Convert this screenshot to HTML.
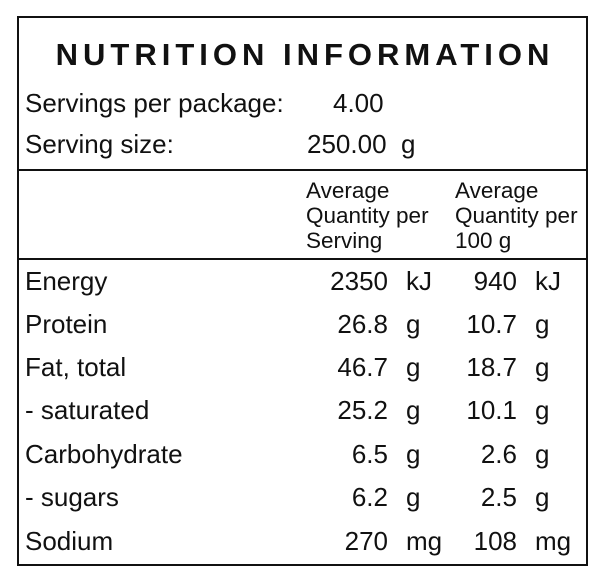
<!DOCTYPE html>
<html><head><style>
body{margin:0;width:606px;height:584px;background:#fff;font-family:"Liberation Sans",Arial,sans-serif;color:#111;position:relative;overflow:hidden}
.box{position:absolute;left:17px;top:16px;width:571px;height:550px;border:2px solid #111;box-sizing:border-box}
.hl{position:absolute;left:17px;width:571px;height:2px;background:#111}
.t{position:absolute;white-space:nowrap;font-size:26px;line-height:30px}
.r{text-align:right}
.h{font-size:22.5px;line-height:25px}
</style></head><body>
<div class="box"></div>
<div class="hl" style="top:169px"></div>
<div class="hl" style="top:258px"></div>
<div class="t" style="left:0;width:606px;text-align:center;top:38px;font-size:31px;line-height:34px;font-weight:bold;letter-spacing:5px;text-indent:4px">NUTRITION INFORMATION</div>
<div class="t" style="left:25px;top:88px">Servings per package:</div>
<div class="t" style="left:333px;top:88px">4.00</div>
<div class="t" style="left:25px;top:129px">Serving size:</div>
<div class="t" style="left:307px;top:129px">250.00&nbsp; g</div>
<div class="t h" style="left:306px;top:178px">Average<br>Quantity per<br>Serving</div>
<div class="t h" style="left:455px;top:178px">Average<br>Quantity per<br>100 g</div>

<div class="t" style="left:25px;top:266px">Energy</div><div class="t r" style="right:218px;top:266px">2350</div><div class="t" style="left:406px;top:266px">kJ</div><div class="t r" style="right:89px;top:266px">940</div><div class="t" style="left:535px;top:266px">kJ</div>
<div class="t" style="left:25px;top:309px">Protein</div><div class="t r" style="right:218px;top:309px">26.8</div><div class="t" style="left:406px;top:309px">g</div><div class="t r" style="right:89px;top:309px">10.7</div><div class="t" style="left:535px;top:309px">g</div>
<div class="t" style="left:25px;top:352px">Fat, total</div><div class="t r" style="right:218px;top:352px">46.7</div><div class="t" style="left:406px;top:352px">g</div><div class="t r" style="right:89px;top:352px">18.7</div><div class="t" style="left:535px;top:352px">g</div>
<div class="t" style="left:25px;top:395px">- saturated</div><div class="t r" style="right:218px;top:395px">25.2</div><div class="t" style="left:406px;top:395px">g</div><div class="t r" style="right:89px;top:395px">10.1</div><div class="t" style="left:535px;top:395px">g</div>
<div class="t" style="left:25px;top:439px">Carbohydrate</div><div class="t r" style="right:218px;top:439px">6.5</div><div class="t" style="left:406px;top:439px">g</div><div class="t r" style="right:89px;top:439px">2.6</div><div class="t" style="left:535px;top:439px">g</div>
<div class="t" style="left:25px;top:482px">- sugars</div><div class="t r" style="right:218px;top:482px">6.2</div><div class="t" style="left:406px;top:482px">g</div><div class="t r" style="right:89px;top:482px">2.5</div><div class="t" style="left:535px;top:482px">g</div>
<div class="t" style="left:25px;top:526px">Sodium</div><div class="t r" style="right:218px;top:526px">270</div><div class="t" style="left:406px;top:526px">mg</div><div class="t r" style="right:89px;top:526px">108</div><div class="t" style="left:535px;top:526px">mg</div>
</body></html>
